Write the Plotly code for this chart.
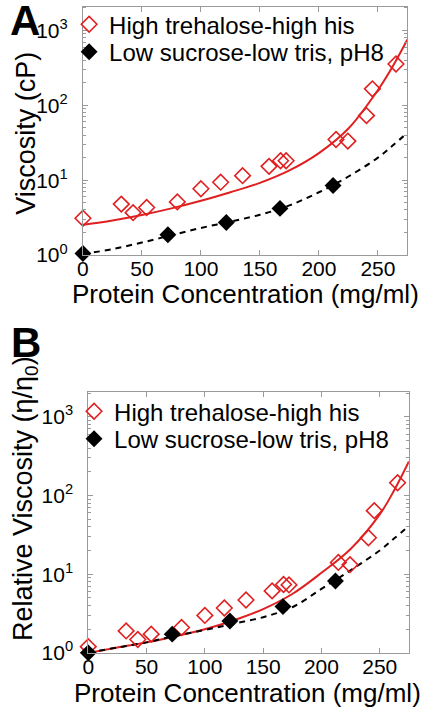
import plotly.graph_objects as go

# ---------------- data ----------------
conc_red = [0, 32.5, 42.5, 54, 80, 100, 116.7, 135.3, 157.7, 167.5, 172.2, 214.5, 224.5, 240.3, 245.3, 265.3]
visc_red = [3.1, 4.79, 3.68, 4.32, 5.13, 7.69, 9.4, 11.5, 15.3, 18.2, 18.2, 34.9, 33.3, 73, 166, 356]
rel_red = [1.2, 1.9, 1.48, 1.73, 2.1, 2.99, 3.72, 4.7, 6.13, 7.4, 7.3, 14.1, 13.2, 29, 64, 145]

conc_blk = [0, 72, 121.5, 167, 212]
visc_blk = [1.05, 1.87, 2.72, 4.2, 8.5]
rel_blk = [1.0, 1.73, 2.54, 3.87, 8.2]

fit_conc = [0, 25, 50, 75, 100, 125, 150, 175, 200, 225, 250, 262.5, 275]
fitA_red = [2.54, 2.9, 3.43, 4.2, 5.3, 6.9, 9.2, 13.5, 23, 49, 160, 331, 760]
fitA_blk = [1.03, 1.2, 1.47, 1.84, 2.3, 2.8, 3.45, 4.6, 6.9, 11.2, 20, 29, 43]
fitB_red = [1.0, 1.17, 1.36, 1.63, 2.0, 2.6, 3.6, 5.6, 10.4, 20.9, 57.5, 117, 270]
fitB_blk = [1.0, 1.17, 1.36, 1.65, 1.95, 2.35, 2.84, 3.8, 6.5, 11.2, 20, 28.5, 41]

name_red = "High trehalose-high his"
name_blk = "Low sucrose-low tris, pH8"

x_ticks = [0, 50, 100, 150, 200, 250]
y_ticks = [1, 10, 100, 1000]
y_ticktext = ["10<sup>0</sup>", "10<sup>1</sup>", "10<sup>2</sup>", "10<sup>3</sup>"]

# ---------------- styling ----------------
RED = "#e02020"
FONT = "Liberation Sans, Arial, sans-serif"
W, H = 437, 720
AX = "#9a9a9a"

fig = go.Figure()

def add_panel(xa, ya, leg_red, leg_blk, red_y, blk_y, fit_red, fit_blk):
    fig.add_trace(go.Scatter(x=fit_conc, y=fit_red, mode="lines", line=dict(color=RED, width=2, shape="spline"),
                             showlegend=False, xaxis=xa, yaxis=ya, hoverinfo="skip"))
    fig.add_trace(go.Scatter(x=fit_conc, y=fit_blk, mode="lines",
                             line=dict(color="black", width=2, dash="6px,5px", shape="spline"),
                             showlegend=False, xaxis=xa, yaxis=ya, hoverinfo="skip"))
    fig.add_trace(go.Scatter(x=conc_red, y=red_y, mode="markers", name=name_red, legend=leg_red,
                             marker=dict(symbol="diamond-open", size=12, color=RED, line=dict(width=1.6, color=RED)),
                             cliponaxis=False, xaxis=xa, yaxis=ya))
    fig.add_trace(go.Scatter(x=conc_blk, y=blk_y, mode="markers", name=name_blk, legend=leg_blk,
                             marker=dict(symbol="diamond", size=13, color="black"),
                             cliponaxis=False, xaxis=xa, yaxis=ya))

add_panel("x", "y", "legend", "legend2", visc_red, visc_blk, fitA_red, fitA_blk)
add_panel("x2", "y2", "legend3", "legend4", rel_red, rel_blk, fitB_red, fitB_blk)

minor_vals = [m * 10 ** e for e in range(0, 4) for m in range(2, 10)]

def xaxis(domain, anchor):
    return dict(domain=domain, anchor=anchor, range=[0, 275], tickvals=x_ticks,
                ticks="inside", ticklen=5, tickcolor=AX, showline=True, linecolor=AX, linewidth=1,
                mirror="ticks", showgrid=False, zeroline=False, ticklabelstandoff=-5,
                tickfont=dict(family=FONT, size=21, color="black"))

def yaxis(domain, anchor):
    return dict(domain=domain, anchor=anchor, type="log", range=[0, 3.315],
                tickvals=y_ticks, ticktext=y_ticktext,
                ticks="inside", ticklen=5, tickcolor=AX, showline=True, linecolor=AX, linewidth=1,
                mirror="ticks", showgrid=False, zeroline=False, ticklabelstandoff=10,
                minor=dict(tickvals=minor_vals, ticks="inside", ticklen=3, tickcolor=AX),
                tickfont=dict(family=FONT, size=21, color="black"))

def px_x(p):
    return p / W

def px_y(p):
    return 1 - p / H

def leg(xp, yp):
    return dict(x=px_x(xp), y=px_y(yp), xanchor="left", yanchor="middle", bgcolor="rgba(0,0,0,0)",
                font=dict(family=FONT, size=24, color="black"), itemwidth=30)

fig.update_layout(
    width=W, height=H, margin=dict(l=0, r=0, t=0, b=0),
    paper_bgcolor="white", plot_bgcolor="white",
    font=dict(family=FONT, color="black"),
    xaxis=xaxis([px_x(78), px_x(407)], "y"),
    yaxis=yaxis([px_y(259), px_y(7)], "x"),
    xaxis2=xaxis([px_x(83.4), px_x(408.5)], "y2"),
    yaxis2=yaxis([px_y(663), px_y(398)], "x2"),
    legend=leg(64, 25),
    legend2=leg(64, 53),
    legend3=leg(69, 418),
    legend4=leg(69, 446),
    annotations=[
        dict(text="<b>A</b>", x=px_x(19), y=px_y(21), xref="paper", yref="paper", xanchor="center", yanchor="middle",
             showarrow=False, font=dict(family=FONT, size=42, color="black")),
        dict(text="<b>B</b>", x=px_x(20), y=px_y(348), xref="paper", yref="paper", xanchor="center", yanchor="middle",
             showarrow=False, font=dict(family=FONT, size=42, color="black")),
        dict(text="Viscosity (cP)", x=px_x(20), y=px_y(135), xref="paper", yref="paper", textangle=-90,
             xanchor="center", yanchor="middle", showarrow=False, font=dict(family=FONT, size=27, color="black")),
        dict(text="Relative Viscosity (η/η<sub>0</sub>)", x=px_x(20), y=px_y(506), xref="paper", yref="paper",
             textangle=-90, xanchor="center", yanchor="middle", showarrow=False,
             font=dict(family=FONT, size=27, color="black")),
        dict(text="Protein Concentration (mg/ml)", x=px_x(243), y=px_y(299), xref="paper", yref="paper",
             xanchor="center", yanchor="middle", showarrow=False, font=dict(family=FONT, size=26, color="black")),
        dict(text="Protein Concentration (mg/ml)", x=px_x(245), y=px_y(704), xref="paper", yref="paper",
             xanchor="center", yanchor="middle", showarrow=False, font=dict(family=FONT, size=26, color="black")),
    ],
)

fig.write_html("out.html", config={"displayModeBar": False},
               post_script="document.body.style.margin='0px';")
